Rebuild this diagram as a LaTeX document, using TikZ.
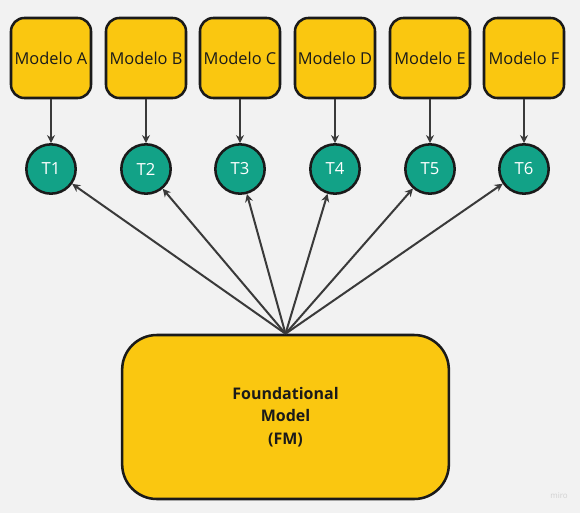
\documentclass[tikz,border=0pt]{standalone}
\usepackage{fontspec}
\setmainfont{Open Sans}
\usetikzlibrary{positioning, calc}
\usetikzlibrary{arrows.meta}

\definecolor{bgcol}{HTML}{F2F2F2}
\definecolor{mirocol}{HTML}{FAC710}
\definecolor{tealcol}{HTML}{12A287}
\definecolor{inkcol}{HTML}{1A1A1A}
\definecolor{arrcol}{HTML}{3A3A3A}

\tikzset{
    modelbox/.style={draw=inkcol, line width=1.9pt, fill=mirocol, rounded corners=10pt,
        minimum width=60pt, minimum height=60pt, inner sep=0pt, text=inkcol, font=\fontsize{12.3}{14}\selectfont},
    tnode/.style={circle, draw=inkcol, line width=1.9pt, fill=tealcol, minimum size=37pt,
        inner sep=0pt, text=white, font=\fontsize{12.5}{14}\selectfont},
    fmbox/.style={draw=inkcol, line width=1.9pt, fill=mirocol, rounded corners=26pt,
        minimum width=245pt, minimum height=123pt, inner sep=0pt, text=inkcol, align=center,
        font=\fontsize{12}{17}\selectfont\bfseries},
    arr/.style={draw=arrcol, line width=1.5pt, -{Stealth[length=6pt,width=6pt]}}
}

\begin{document}
\begin{tikzpicture}[x=0.75pt, y=-0.75pt]
            \fill[bgcol] (0,0) rectangle (580,513);
            \foreach \l/\x [count=\i] in {A/51, B/146, C/240, D/335, E/430, F/524}{
                \node[modelbox] (m\i) at (\x,58) {Modelo \l};
                \node[tnode] (t\i) at (\x,169) {T\i};
                \draw[arr] (m\i) -- (t\i);
            }
            \node[fmbox] (fm) at (285.5,417) {Foundational\\Model\\(FM)};
            \foreach \i in {1,...,6}{
                \draw[arr] (fm.north) -- (t\i);
            }
            \node[text=black!18, font=\fontsize{6}{7}\selectfont] (miro) at (559,496) {miro};
        \end{tikzpicture}
\end{document}
